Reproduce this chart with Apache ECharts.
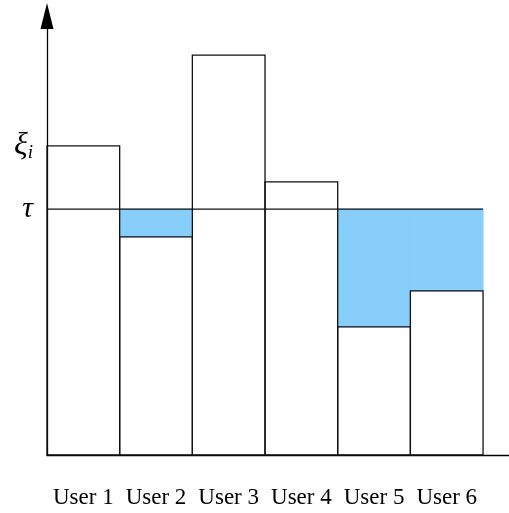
<!DOCTYPE html>
<html><head><meta charset="utf-8">
<script src="https://cdn.jsdelivr.net/npm/echarts@6/dist/echarts.min.js"></script>
<style>html,body{margin:0;padding:0;background:#fff}#c{width:509px;height:513px}</style>
</head><body><div id="c"></div>
<script>
const users = ['User 1','User 2','User 3','User 4','User 5','User 6'];
const demand = [70.4, 49.7, 91.1, 62.2, 29.2, 37.4];
const tau = 56.0;
const xi = 70.4;

const chart = echarts.init(document.getElementById('c'));
const barData = demand.map((v,i)=>[i, v]);
const gapData = demand.map((v,i)=>[i, v]).filter(d=>d[1] < tau);
const font = '"Liberation Serif", "DejaVu Serif", serif';

chart.setOption({
  animation:false,
  grid:{left:47, right:0, top:16, bottom:58},
  xAxis:{type:'value', min:0, max:6.357,
    axisLine:{show:true, onZero:false, lineStyle:{color:'#000', width:1.3}},
    axisTick:{show:false}, splitLine:{show:false},
    axisLabel:{customValues:[0.5,1.5,2.5,3.5,4.5,5.5], margin:31, fontFamily:font, fontSize:23, color:'#000',
      formatter:v=>users[Math.round(v-0.5)]}
  },
  yAxis:{type:'value', min:0, max:100,
    axisLine:{show:true, symbol:['none','triangle'], symbolSize:[13,26], lineStyle:{color:'#000', width:1.3}},
    axisTick:{show:false}, splitLine:{show:false},
    axisLabel:{customValues:[tau, xi], margin:14, color:'#000',
      formatter:v=> Math.abs(v-xi)<0.01 ? '{x|ξ}{s|i}' : '{t|τ}',
      rich:{x:{fontFamily:font, fontStyle:'italic', fontSize:32, color:'#000'},
            t:{fontFamily:font, fontStyle:'italic', fontSize:30, color:'#000'},
            s:{fontFamily:font, fontStyle:'italic', fontSize:19, color:'#000', verticalAlign:'bottom', padding:[14,0,0,0]}}
    }
  },
  series:[
    {type:'custom', z:1, data:gapData, renderItem:(p,api)=>{
      const i=api.value(0), v=api.value(1);
      const a=api.coord([i,tau]), b=api.coord([i+1,v]);
      return {type:'rect', shape:{x:a[0], y:a[1], width:b[0]-a[0], height:b[1]-a[1]}, style:{fill:'#87CEFA', stroke:'#87CEFA', lineWidth:1}};
    }},
    {type:'custom', z:2, data:barData, renderItem:(p,api)=>{
      const i=api.value(0), v=api.value(1);
      const a=api.coord([i,v]), b=api.coord([i+1,0]);
      return {type:'rect', shape:{x:a[0], y:a[1], width:b[0]-a[0], height:b[1]-a[1]}, style:{fill:'none', stroke:'#111', lineWidth:1.3}};
    }},
    {type:'line', z:3, data:[[0,tau],[6,tau]], symbol:'none', lineStyle:{color:'#111', width:1.3}}
  ]
});
</script></body></html>
